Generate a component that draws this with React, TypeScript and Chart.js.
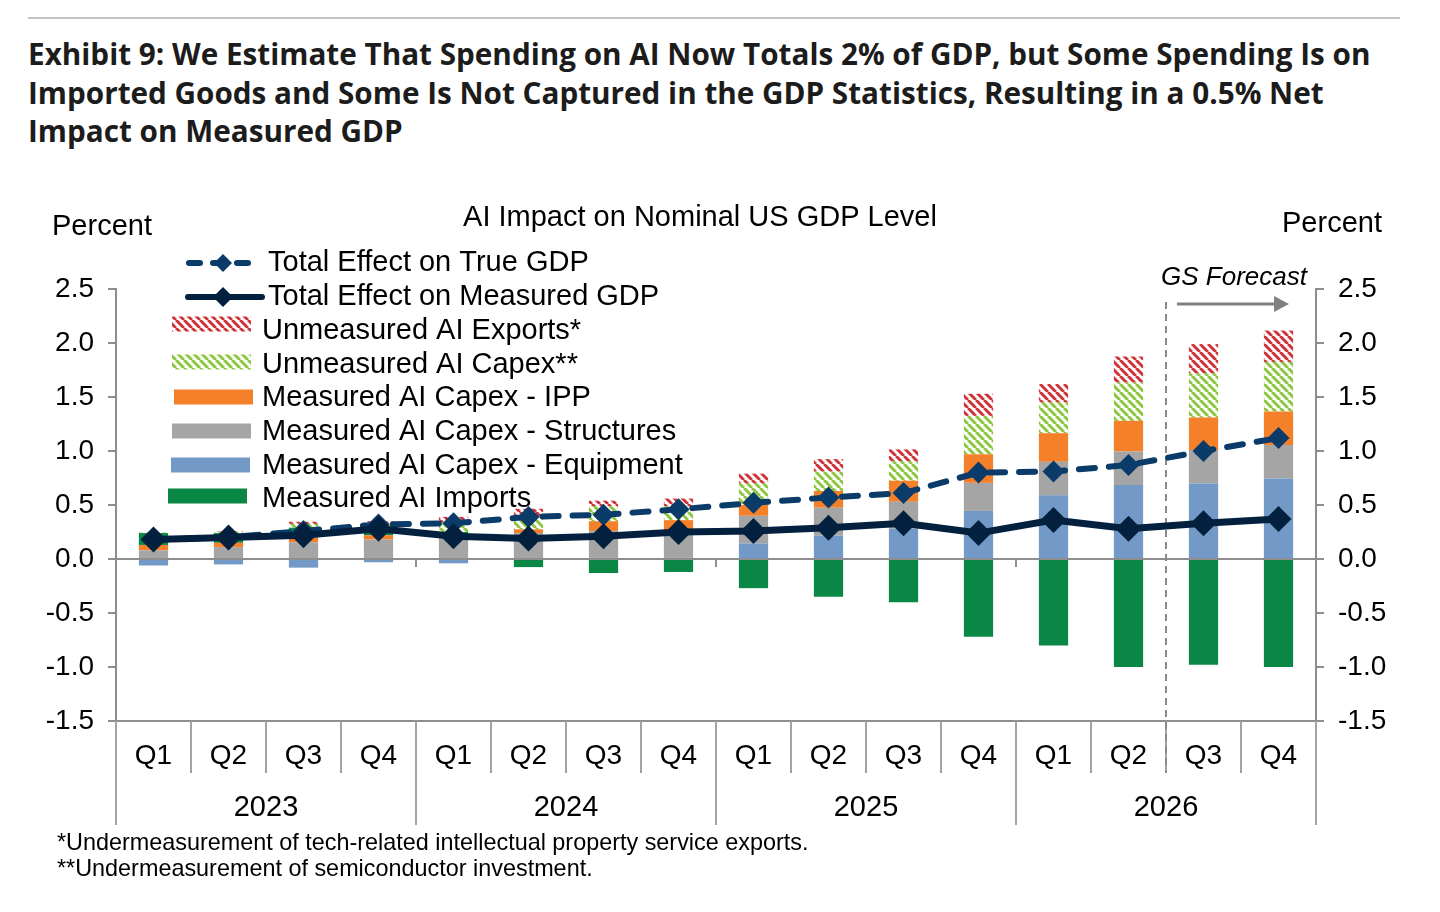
import { useEffect, useRef } from 'react';
import { Chart, registerables } from 'chart.js';

Chart.register(...registerables);

// categories
const quarters = ['Q1', 'Q2', 'Q3', 'Q4', 'Q1', 'Q2', 'Q3', 'Q4', 'Q1', 'Q2', 'Q3', 'Q4', 'Q1', 'Q2', 'Q3', 'Q4'];
const years = ['2023', '2024', '2025', '2026'];

// stacked components (percent of GDP)
const equipment = [-0.06, -0.05, -0.08, -0.03, -0.04, 0.0, 0.01, 0.01, 0.145, 0.215, 0.28, 0.445, 0.59, 0.685, 0.7, 0.745];
const structures = [0.08, 0.11, 0.155, 0.18, 0.2, 0.24, 0.25, 0.25, 0.255, 0.26, 0.25, 0.26, 0.31, 0.31, 0.31, 0.31];
const ipp = [0.05, 0.04, 0.045, 0.04, 0.03, 0.035, 0.09, 0.1, 0.1, 0.155, 0.195, 0.265, 0.265, 0.285, 0.3, 0.31];
const imports = [0.11, 0.09, 0.09, 0.08, 0.02, -0.075, -0.13, -0.12, -0.27, -0.35, -0.4, -0.72, -0.8, -1.0, -0.98, -1.0];
const unmeasuredCapex = [0.005, 0.01, 0.035, 0.03, 0.09, 0.12, 0.14, 0.13, 0.2, 0.18, 0.18, 0.355, 0.285, 0.355, 0.41, 0.46];
const unmeasuredExports = [0, 0.005, 0.02, 0.02, 0.05, 0.07, 0.05, 0.07, 0.09, 0.115, 0.11, 0.205, 0.17, 0.24, 0.27, 0.29];

// totals
const trueGdp = [0.18, 0.2, 0.26, 0.32, 0.33, 0.39, 0.41, 0.46, 0.52, 0.57, 0.61, 0.8, 0.81, 0.87, 1.0, 1.12];
const measuredGdp = [0.18, 0.2, 0.22, 0.28, 0.21, 0.19, 0.21, 0.25, 0.26, 0.29, 0.33, 0.24, 0.36, 0.28, 0.33, 0.37];

const FONT = '"Liberation Sans", Arial, sans-serif';
const AXIS = '#8e8e8e';
const C_EQUIP = '#7399c6';
const C_STRUCT = '#a5a5a5';
const C_IPP = '#f5802a';
const C_IMPORTS = '#0b8745';
const C_RED = '#d0343a';
const C_LIME = '#8dc63f';
const C_TRUE = '#0b3b69';
const C_MEAS = '#03213f';

function makeHatch(ctx: CanvasRenderingContext2D, color: string) {
  const tile = document.createElement('canvas');
  tile.width = 8;
  tile.height = 8;
  const g = tile.getContext('2d')!;
  g.fillStyle = '#fff';
  g.fillRect(0, 0, 8, 8);
  g.strokeStyle = color;
  g.lineWidth = 3;
  g.beginPath();
  for (const o of [-8, 0, 8]) {
    g.moveTo(o, 0);
    g.lineTo(o + 8, 8);
  }
  g.stroke();
  return ctx.createPattern(tile, 'repeat')!;
}

export default function App() {
  const chartRef = useRef<HTMLCanvasElement>(null);
  const chartInstance = useRef<Chart | null>(null);

  useEffect(() => {
    if (!chartRef.current) return;
    if (chartInstance.current) chartInstance.current.destroy();
    const ctx = chartRef.current.getContext('2d');
    if (!ctx) return;

    const redHatch = makeHatch(ctx, C_RED);
    const limeHatch = makeHatch(ctx, C_LIME);

    const legendRows: any[] = [
      { kind: 'dash', label: 'Total Effect on True GDP', y: 263 },
      { kind: 'solid', label: 'Total Effect on Measured GDP', y: 297 },
      { kind: 'box', fill: redHatch, label: 'Unmeasured AI Exports*', y: 331, by: 324, x0: 172 },
      { kind: 'box', fill: limeHatch, label: 'Unmeasured AI Capex**', y: 365, by: 362, x0: 172 },
      { kind: 'box', fill: C_IPP, label: 'Measured AI Capex - IPP', y: 398, by: 397, x0: 174 },
      { kind: 'box', fill: C_STRUCT, label: 'Measured AI Capex - Structures', y: 432, by: 431, x0: 172 },
      { kind: 'box', fill: C_EQUIP, label: 'Measured AI Capex - Equipment', y: 466, by: 465, x0: 171 },
      { kind: 'box', fill: C_IMPORTS, label: 'Measured AI Imports', y: 499, by: 496, x0: 168 },
    ];

    const diamond = (c: CanvasRenderingContext2D, x: number, y: number, r: number, color: string) => {
      c.save();
      c.setLineDash([]);
      c.fillStyle = color;
      c.beginPath();
      c.moveTo(x, y - r);
      c.lineTo(x + r, y);
      c.lineTo(x, y + r);
      c.lineTo(x - r, y);
      c.closePath();
      c.fill();
      c.restore();
    };

    const decor = {
      id: 'decor',
      beforeDatasetsDraw(chart: any) {
        const c: CanvasRenderingContext2D = chart.ctx;
        const a = chart.chartArea;
        const xs = chart.scales.x;
        const ys = chart.scales.y;
        const step = xs.getPixelForValue(1) - xs.getPixelForValue(0);
        const edge = (i: number) => xs.getPixelForValue(0) - step / 2 + i * step;
        const line = (x1: number, y1: number, x2: number, y2: number) => {
          c.beginPath();
          c.moveTo(x1, y1);
          c.lineTo(x2, y2);
          c.stroke();
        };
        c.save();
        c.strokeStyle = AXIS;
        c.lineWidth = 2;
        const y0 = ys.getPixelForValue(0);
        line(a.left, y0, a.right, y0);
        line(a.left, a.bottom, a.right, a.bottom);
        for (let k = 1; k < 4; k++) line(edge(4 * k), y0, edge(4 * k), y0 + 8);
        c.strokeStyle = '#a3a3a3';
        for (let i = 0; i <= quarters.length; i++) {
          line(edge(i), a.bottom, edge(i), a.bottom + (i % 4 === 0 ? 104 : 52));
        }

        c.fillStyle = '#000';
        c.textAlign = 'center';
        c.textBaseline = 'middle';
        c.font = `28px ${FONT}`;
        quarters.forEach((q, i) => c.fillText(q, xs.getPixelForValue(i), a.bottom + 35));
        c.font = `29px ${FONT}`;
        years.forEach((yr, k) => c.fillText(yr, (edge(4 * k) + edge(4 * k + 4)) / 2, a.bottom + 87));

        // forecast divider and arrow
        const xf = edge(14);
        c.strokeStyle = '#8a8a8a';
        c.setLineDash([7, 5]);
        line(xf, 302, xf, a.bottom + 52);
        c.setLineDash([]);
        c.strokeStyle = '#808080';
        c.lineWidth = 3;
        line(xf + 11, 304, xf + 112, 304);
        c.fillStyle = '#808080';
        c.beginPath();
        c.moveTo(xf + 108, 296);
        c.lineTo(xf + 123, 304);
        c.lineTo(xf + 108, 312);
        c.closePath();
        c.fill();
        c.fillStyle = '#000';
        c.textAlign = 'left';
        c.font = `italic 26px ${FONT}`;
        c.fillText('GS Forecast', 1161, 278);

        // titles
        c.font = `29px ${FONT}`;
        c.fillText('Percent', 52, 227);
        c.fillText('Percent', 1282, 224);
        c.textAlign = 'center';
        c.fillText('AI Impact on Nominal US GDP Level', 700, 218);

        // legend
        c.textAlign = 'left';
        legendRows.forEach((r) => {
          if (r.kind === 'dash') {
            c.strokeStyle = C_TRUE;
            c.lineWidth = 6;
            c.lineCap = 'round';
            c.setLineDash([11, 13]);
            line(189, r.y, 258, r.y);
            c.setLineDash([]);
            diamond(c, 223, r.y, 9, C_TRUE);
            c.fillStyle = '#000';
            c.fillText(r.label, 268, r.y);
          } else if (r.kind === 'solid') {
            c.strokeStyle = C_MEAS;
            c.lineWidth = 6;
            c.lineCap = 'round';
            line(188, r.y, 262, r.y);
            diamond(c, 223, r.y, 10, C_MEAS);
            c.fillStyle = '#000';
            c.fillText(r.label, 268, r.y);
          } else {
            c.fillStyle = r.fill;
            c.fillRect(r.x0, r.by - 7.5, 79, 15);
            c.fillStyle = '#000';
            c.fillText(r.label, 262, r.y);
          }
        });
        c.restore();
      },
    };

    const yTickCb = (v: any) => Number(v).toFixed(1);
    const axisOpts = (pos: 'left' | 'right', stacked: boolean, w: number) => ({
      position: pos,
      stacked,
      min: -1.5,
      max: 2.5,
      ticks: { stepSize: 0.5, callback: yTickCb, color: '#000', font: { size: 28, family: FONT }, padding: 14 },
      grid: { drawOnChartArea: false, drawTicks: true, tickLength: 8, color: AXIS, lineWidth: 2 },
      border: { display: true, color: AXIS, width: 2 },
      afterFit: (s: any) => {
        s.width = w;
      },
    });

    const barBase = { type: 'bar' as const, yAxisID: 'y', order: 2, borderWidth: 0, barPercentage: 0.39, categoryPercentage: 1 };

    chartInstance.current = new Chart(ctx, {
      type: 'bar',
      data: {
        labels: quarters.map((q, i) => `${q} ${years[Math.floor(i / 4)]}`),
        datasets: [
          {
            type: 'line',
            label: 'Total Effect on Measured GDP',
            data: measuredGdp,
            yAxisID: 'y2',
            order: 0,
            borderColor: C_MEAS,
            borderWidth: 7,
            tension: 0,
            pointStyle: 'rectRot',
            pointRadius: 13,
            pointBackgroundColor: C_MEAS,
            pointBorderWidth: 0,
          },
          {
            type: 'line',
            label: 'Total Effect on True GDP',
            data: trueGdp,
            yAxisID: 'y2',
            order: 1,
            borderColor: C_TRUE,
            borderWidth: 6,
            borderDash: [16, 14],
            borderCapStyle: 'round',
            tension: 0,
            pointStyle: 'rectRot',
            pointRadius: 11,
            pointBackgroundColor: C_TRUE,
            pointBorderWidth: 0,
          },
          { ...barBase, label: 'Measured AI Capex - Equipment', data: equipment, backgroundColor: C_EQUIP },
          { ...barBase, label: 'Measured AI Capex - Structures', data: structures, backgroundColor: C_STRUCT },
          { ...barBase, label: 'Measured AI Capex - IPP', data: ipp, backgroundColor: C_IPP },
          { ...barBase, label: 'Measured AI Imports', data: imports, backgroundColor: C_IMPORTS },
          { ...barBase, label: 'Unmeasured AI Capex**', data: unmeasuredCapex, backgroundColor: limeHatch },
          { ...barBase, label: 'Unmeasured AI Exports*', data: unmeasuredExports, backgroundColor: redHatch },
        ] as any,
      },
      options: {
        responsive: false,
        animation: false,
        layout: { padding: { top: 289, bottom: 191, left: 0, right: 0 } },
        plugins: { legend: { display: false }, tooltip: { enabled: false } },
        scales: {
          x: { display: false, stacked: true, offset: true },
          y: axisOpts('left', true, 116),
          y2: axisOpts('right', false, 124),
        } as any,
      },
      plugins: [decor],
    });

    return () => {
      if (chartInstance.current) {
        chartInstance.current.destroy();
        chartInstance.current = null;
      }
    };
  }, []);

  return (
    <div style={{ position: 'absolute', left: 0, top: 0, width: 1440, height: 912, background: '#fff', overflow: 'hidden' }}>
      <div style={{ position: 'absolute', left: 28, top: 17, width: 1372, height: 2, background: '#c4c4c4' }} />
      <div
        style={{
          position: 'absolute',
          left: 28,
          top: 35,
          width: 1400,
          fontFamily: '"Open Sans", sans-serif',
          fontWeight: 700,
          fontSize: 29.7,
          lineHeight: '38.5px',
          color: '#1c1c1c',
          whiteSpace: 'nowrap',
        }}
      >
        Exhibit 9: We Estimate That Spending on AI Now Totals 2% of GDP, but Some Spending Is on
        <br />
        Imported Goods and Some Is Not Captured in the GDP Statistics, Resulting in a 0.5% Net
        <br />
        Impact on Measured GDP
      </div>
      <canvas ref={chartRef} width={1440} height={912} style={{ position: 'absolute', left: 0, top: 0 }} />
      <div
        style={{
          position: 'absolute',
          left: 57,
          top: 829,
          fontFamily: FONT,
          fontSize: 23.4,
          lineHeight: '26px',
          color: '#000',
          whiteSpace: 'nowrap',
        }}
      >
        *Undermeasurement of tech-related intellectual property service exports.
        <br />
        **Undermeasurement of semiconductor investment.
      </div>
    </div>
  );
}
